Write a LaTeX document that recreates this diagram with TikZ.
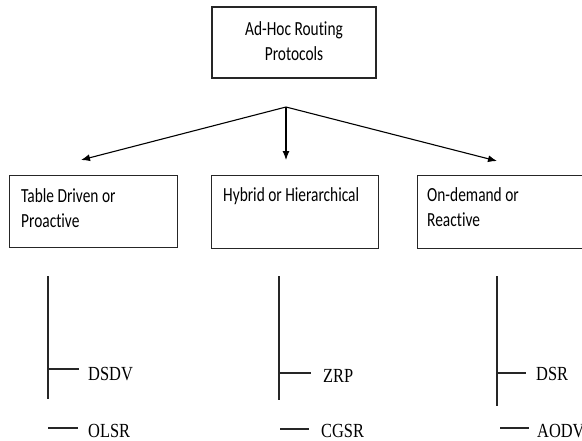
\documentclass[tikz,border=0pt]{standalone}
\usepackage{fontspec}
\newfontfamily\boxfont[FakeStretch=0.77,RawFeature={-liga;-clig}]{Carlito}
\newfontfamily\leaffont[FakeStretch=0.82]{Liberation Serif}
\usetikzlibrary{arrows.meta}
\begin{document}
\begin{tikzpicture}[x=1pt,y=-1pt,
  boxline/.style={draw=black!85,line width=1.3pt},
  cat/.style={boxline,rectangle,inner sep=0pt},
  boxtext/.style={inner sep=0pt,anchor=base west,align=left,font=\boxfont\fontsize{20}{25}\selectfont},
  leaf/.style={inner sep=0pt,anchor=base west,font=\leaffont\fontsize{20}{24}\selectfont},
  arr/.style={line width=1.1pt,-{Latex[length=9pt,width=7pt]}},
  tree/.style={line width=1.3pt,draw=black!85}]
\useasboundingbox (0,0) rectangle (582,440);
% top box
\node[cat,minimum width=164pt,minimum height=71pt] (root) at (294,42.5) {};
\node[inner sep=0pt,anchor=base,align=center,font=\boxfont\fontsize{20}{25}\selectfont] (roottext) at (294,60) {Ad-Hoc Routing\\Protocols};
% arrows
\coordinate (apex) at (286,107);
\coordinate (tipA) at (81,160);
\coordinate (tipB) at (286,160);
\coordinate (tipC) at (497,161);
\draw[arr] (apex) -- (tipA);
\draw[arr] (apex) -- (tipB);
\draw[arr] (apex) -- (tipC);
% category boxes
\node[cat,minimum width=168pt,minimum height=72pt,anchor=north west] (boxA) at (9,175) {};
\node[cat,minimum width=167pt,minimum height=73pt,anchor=north west] (boxB) at (211,175) {};
\node[cat,minimum width=190pt,minimum height=73pt,anchor=north west] (boxC) at (417,175) {};
\node[boxtext] (textA) at (21,227) {Table Driven or\\Proactive};
\node[boxtext] (textB) at (223,201) {Hybrid or Hierarchical};
\node[boxtext] (textC) at (427,226) {On-demand or\\Reactive};
% trees
\coordinate (a1) at (48,276); \coordinate (a2) at (48,399);
\coordinate (a3) at (48,369); \coordinate (a4) at (79,369);
\coordinate (a5) at (48,428); \coordinate (a6) at (78,428);
\draw[tree] (a1) -- (a2);
\draw[tree] (a3) -- (a4);
\draw[tree] (a5) -- (a6);
\node[leaf] (dsdv) at (88,380) {DSDV};
\node[leaf] (olsr) at (88,437) {OLSR};
\coordinate (b1) at (279,276); \coordinate (b2) at (279,400);
\coordinate (b3) at (279,373); \coordinate (b4) at (311,373);
\coordinate (b5) at (280,429); \coordinate (b6) at (309,429);
\draw[tree] (b1) -- (b2);
\draw[tree] (b3) -- (b4);
\draw[tree] (b5) -- (b6);
\node[leaf] (zrp) at (323,382) {ZRP};
\node[leaf] (cgsr) at (321,437) {CGSR};
\coordinate (c1) at (497,276); \coordinate (c2) at (497,406);
\coordinate (c3) at (497,373); \coordinate (c4) at (526,373);
\coordinate (c5) at (500,428); \coordinate (c6) at (529,428);
\draw[tree] (c1) -- (c2);
\draw[tree] (c3) -- (c4);
\draw[tree] (c5) -- (c6);
\node[leaf] (dsr) at (536,380) {DSR};
\node[leaf] (aodv) at (537,437) {AODV};
\end{tikzpicture}
\end{document}
